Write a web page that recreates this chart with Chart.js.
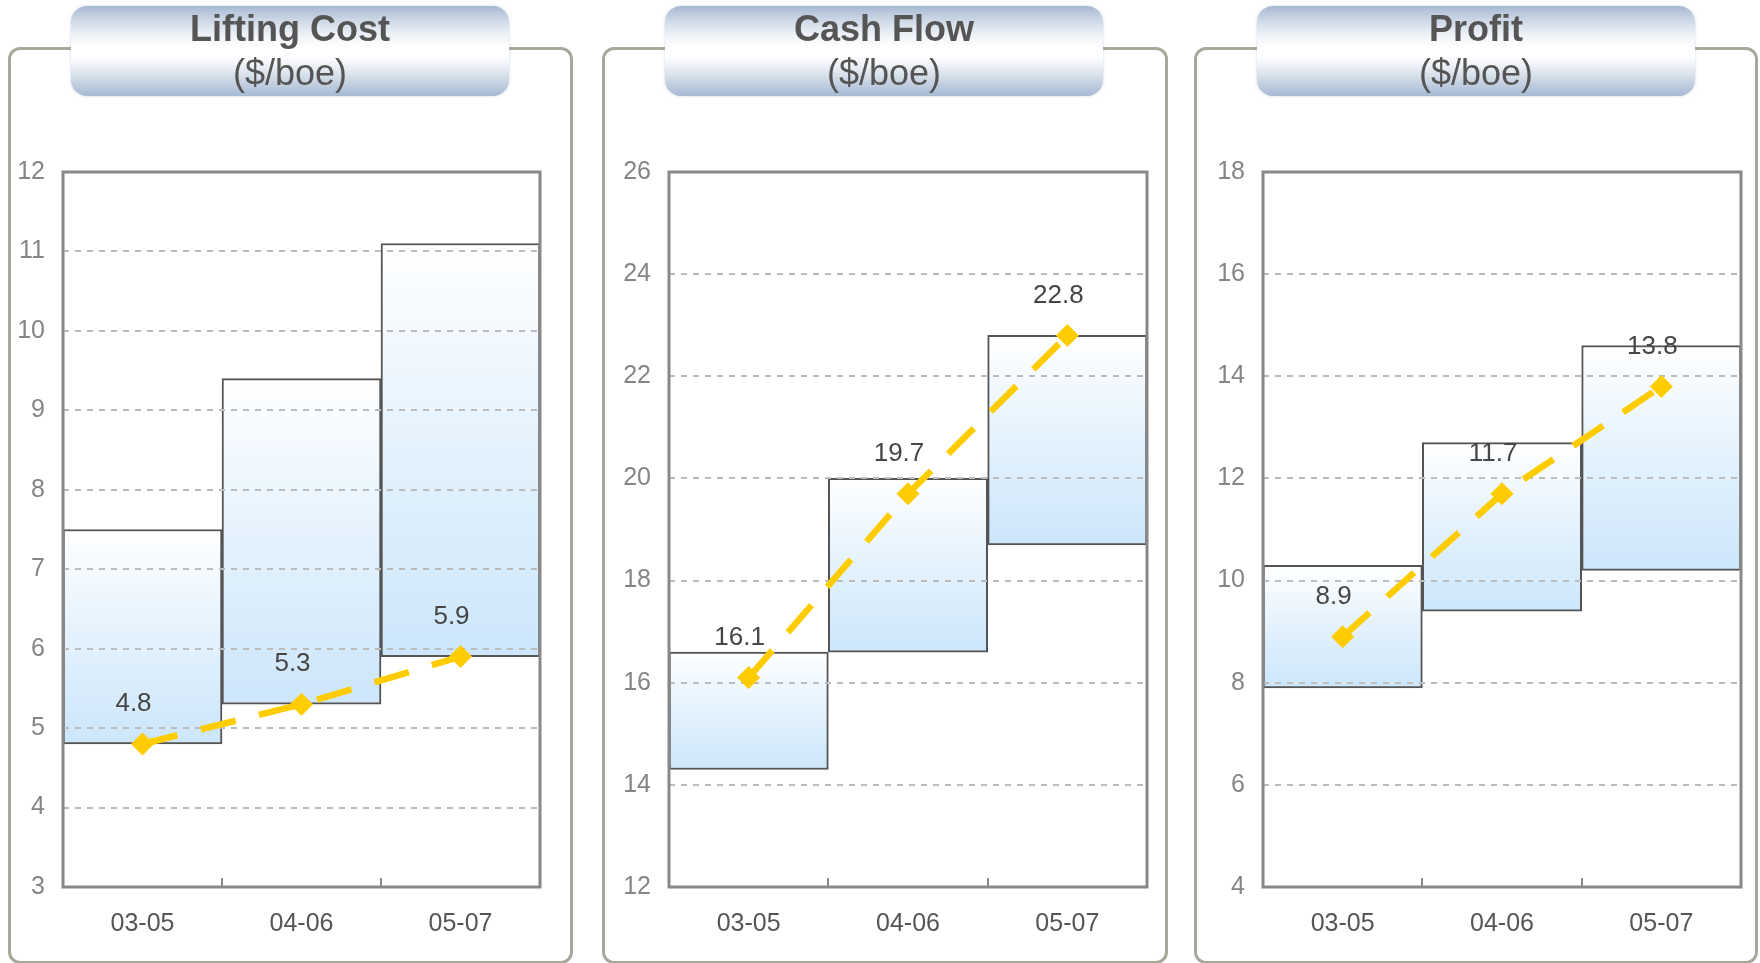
<!DOCTYPE html>
<html>
<head>
<meta charset="utf-8">
<script src="https://cdn.jsdelivr.net/npm/chart.js@4.4.1/dist/chart.umd.min.js"></script>
<style>
  html, body { margin: 0; padding: 0; background: #fff; }
  body { width: 1760px; height: 963px; position: relative; overflow: hidden;
         font-family: 'Liberation Sans', Arial, sans-serif; }
  .frame { position: absolute; top: 47px; height: 917px; box-sizing: border-box;
           border: 3px solid #aaa89a; border-radius: 12px; }
  .tab { position: absolute; top: 6px; height: 90px; width: 438px; border-radius: 16px; z-index: 2;
         background: linear-gradient(to bottom, #a6b9d3 0%, #c9d5e4 14%, #eef2f7 32%, #ffffff 46%,
                     #ffffff 56%, #eef2f7 66%, #c8d4e3 84%, #a6b9d3 100%);
         box-shadow: 0 0 3px rgba(166,185,211,0.6); color: #555; text-align: center; }
  .tab div { position: absolute; left: 0; right: 0; font-size: 36px; line-height: 40px; }
  .tab .t1 { top: 3px; font-weight: bold; }
  .tab .t2 { top: 47px; }
  canvas { position: absolute; top: 100px; }
</style>
</head>
<body>
<script>
// Three-year rolling periods
const categories = ['03-05', '04-06', '05-07'];

// Lifting cost ($/boe): range bars and period average
const liftingLow  = [4.8, 5.3, 5.9];
const liftingHigh = [7.5, 9.4, 11.1];
const liftingAvg  = [4.8, 5.3, 5.9];
const liftingTicks = [3, 4, 5, 6, 7, 8, 9, 10, 11, 12];

// Cash flow ($/boe)
const cashLow  = [14.3, 16.6, 18.7];
const cashHigh = [16.6, 20.0, 22.8];
const cashAvg  = [16.1, 19.7, 22.8];
const cashTicks = [12, 14, 16, 18, 20, 22, 24, 26];

// Profit ($/boe)
const profitLow  = [7.9, 9.4, 10.2];
const profitHigh = [10.3, 12.7, 14.6];
const profitAvg  = [8.9, 11.7, 13.8];
const profitTicks = [4, 6, 8, 10, 12, 14, 16, 18];

const FONT = "'Liberation Sans', Arial, sans-serif";

// Panel boxes on the page: frame edges and plot-area edges
const panels = [
  { title: 'Lifting Cost', unit: '($/boe)', low: liftingLow, high: liftingHigh, avg: liftingAvg, ticks: liftingTicks,
    frameL: 8, frameR: 573, plotL: 63, plotR: 540 },
  { title: 'Cash Flow', unit: '($/boe)', low: cashLow, high: cashHigh, avg: cashAvg, ticks: cashTicks,
    frameL: 602, frameR: 1168, plotL: 669, plotR: 1147 },
  { title: 'Profit', unit: '($/boe)', low: profitLow, high: profitHigh, avg: profitAvg, ticks: profitTicks,
    frameL: 1194, frameR: 1758, plotL: 1263, plotR: 1741 }
];
const CANVAS_TOP = 100, PLOT_TOP = 172, PLOT_BOTTOM = 887, PAGE_H = 963;

// Dashed grid lines over the bars, plot frame, inward category ticks and value labels
const panelDecor = {
  id: 'panelDecor',
  afterDatasetDraw(chart, args) {
    if (args.index !== 0) return;
    const { ctx, chartArea: a, scales: { y } } = chart;
    ctx.save();
    ctx.strokeStyle = '#bcbcbc';
    ctx.lineWidth = 2;
    ctx.setLineDash([6, 6]);
    y.ticks.forEach(t => {
      const py = Math.round(y.getPixelForValue(t.value));
      if (py <= a.top + 2 || py >= a.bottom - 2) return;
      ctx.beginPath();
      ctx.moveTo(a.left, py);
      ctx.lineTo(a.right, py);
      ctx.stroke();
    });
    ctx.restore();
  },
  afterDatasetsDraw(chart) {
    const { ctx, chartArea: a, scales: { x } } = chart;
    const avgMeta = chart.getDatasetMeta(1);
    const values = chart.data.datasets[1].data;
    ctx.save();
    // value labels above the average markers
    ctx.fillStyle = '#464646';
    ctx.font = '26px ' + FONT;
    ctx.textAlign = 'center';
    ctx.textBaseline = 'middle';
    avgMeta.data.forEach((pt, i) => {
      ctx.fillText(values[i].toFixed(1), pt.x - 9, pt.y - 40);
    });
    // plot frame
    ctx.strokeStyle = '#888888';
    ctx.lineWidth = 3;
    ctx.strokeRect(a.left, a.top, a.right - a.left, a.bottom - a.top);
    // inward ticks on category boundaries
    ctx.lineWidth = 2;
    for (let i = 0; i < categories.length - 1; i++) {
      const bx = Math.round((x.getPixelForValue(i) + x.getPixelForValue(i + 1)) / 2);
      ctx.beginPath();
      ctx.moveTo(bx, a.bottom);
      ctx.lineTo(bx, a.bottom - 9);
      ctx.stroke();
    }
    ctx.restore();
  }
};

function barFill(c) {
  const chart = c.chart;
  const y = chart.scales.y;
  if (!y || !chart.chartArea || !Array.isArray(c.raw)) return '#e2f0fc';
  const top = y.getPixelForValue(c.raw[1]);
  const bot = y.getPixelForValue(c.raw[0]);
  const g = chart.ctx.createLinearGradient(0, top, 0, bot);
  g.addColorStop(0, '#ffffff');
  g.addColorStop(0.45, '#e6f3fd');
  g.addColorStop(1, '#cde6fb');
  return g;
}

panels.forEach(p => {
  const frame = document.createElement('div');
  frame.className = 'frame';
  frame.style.left = p.frameL + 'px';
  frame.style.width = (p.frameR - p.frameL) + 'px';
  document.body.appendChild(frame);

  const tab = document.createElement('div');
  tab.className = 'tab';
  tab.style.left = (p.frameL + 63) + 'px';
  tab.innerHTML = '<div class="t1"></div><div class="t2"></div>';
  tab.querySelector('.t1').textContent = p.title;
  tab.querySelector('.t2').textContent = p.unit;
  document.body.appendChild(tab);

  const canvas = document.createElement('canvas');
  const w = p.frameR - p.frameL, h = PAGE_H - CANVAS_TOP;
  canvas.width = w; canvas.height = h;
  canvas.style.left = p.frameL + 'px';
  canvas.style.width = w + 'px'; canvas.style.height = h + 'px';
  document.body.appendChild(canvas);

  new Chart(canvas, {
    type: 'bar',
    data: {
      labels: categories,
      datasets: [
        {
          type: 'bar',
          data: p.low.map((lo, i) => [lo, p.high[i]]),
          backgroundColor: barFill,
          borderColor: '#555555',
          borderWidth: 2,
          borderSkipped: false,
          barPercentage: 1,
          categoryPercentage: 1,
          order: 1
        },
        {
          type: 'line',
          data: p.avg,
          borderColor: '#ffcc00',
          borderWidth: 6.5,
          borderDash: [36, 24],
          borderCapStyle: 'butt',
          tension: 0,
          fill: false,
          pointStyle: 'rectRot',
          pointRadius: 11,
          pointBackgroundColor: '#ffcc00',
          pointBorderColor: '#ffcc00',
          pointBorderWidth: 1,
          order: 0
        }
      ]
    },
    options: {
      responsive: false,
      devicePixelRatio: 1,
      animation: false,
      events: [],
      layout: { padding: { left: 0, right: p.frameR - p.plotR, top: PLOT_TOP - CANVAS_TOP, bottom: 0 } },
      plugins: { legend: { display: false }, tooltip: { enabled: false } },
      scales: {
        x: {
          offset: true,
          grid: { display: false, drawTicks: false },
          border: { display: false },
          ticks: { color: '#555555', font: { family: FONT, size: 25 }, padding: 22, maxRotation: 0 },
          afterFit(s) { s.height = PAGE_H - PLOT_BOTTOM; }
        },
        y: {
          min: p.ticks[0],
          max: p.ticks[p.ticks.length - 1],
          grid: { display: false, drawTicks: false },
          border: { display: false },
          ticks: { stepSize: p.ticks[1] - p.ticks[0], color: '#858585', font: { family: FONT, size: 25 }, padding: 18 },
          afterBuildTicks(s) { s.ticks = p.ticks.map(v => ({ value: v })); },
          afterFit(s) { s.width = p.plotL - p.frameL; }
        }
      }
    },
    plugins: [panelDecor]
  });
});
</script>
</body>
</html>
